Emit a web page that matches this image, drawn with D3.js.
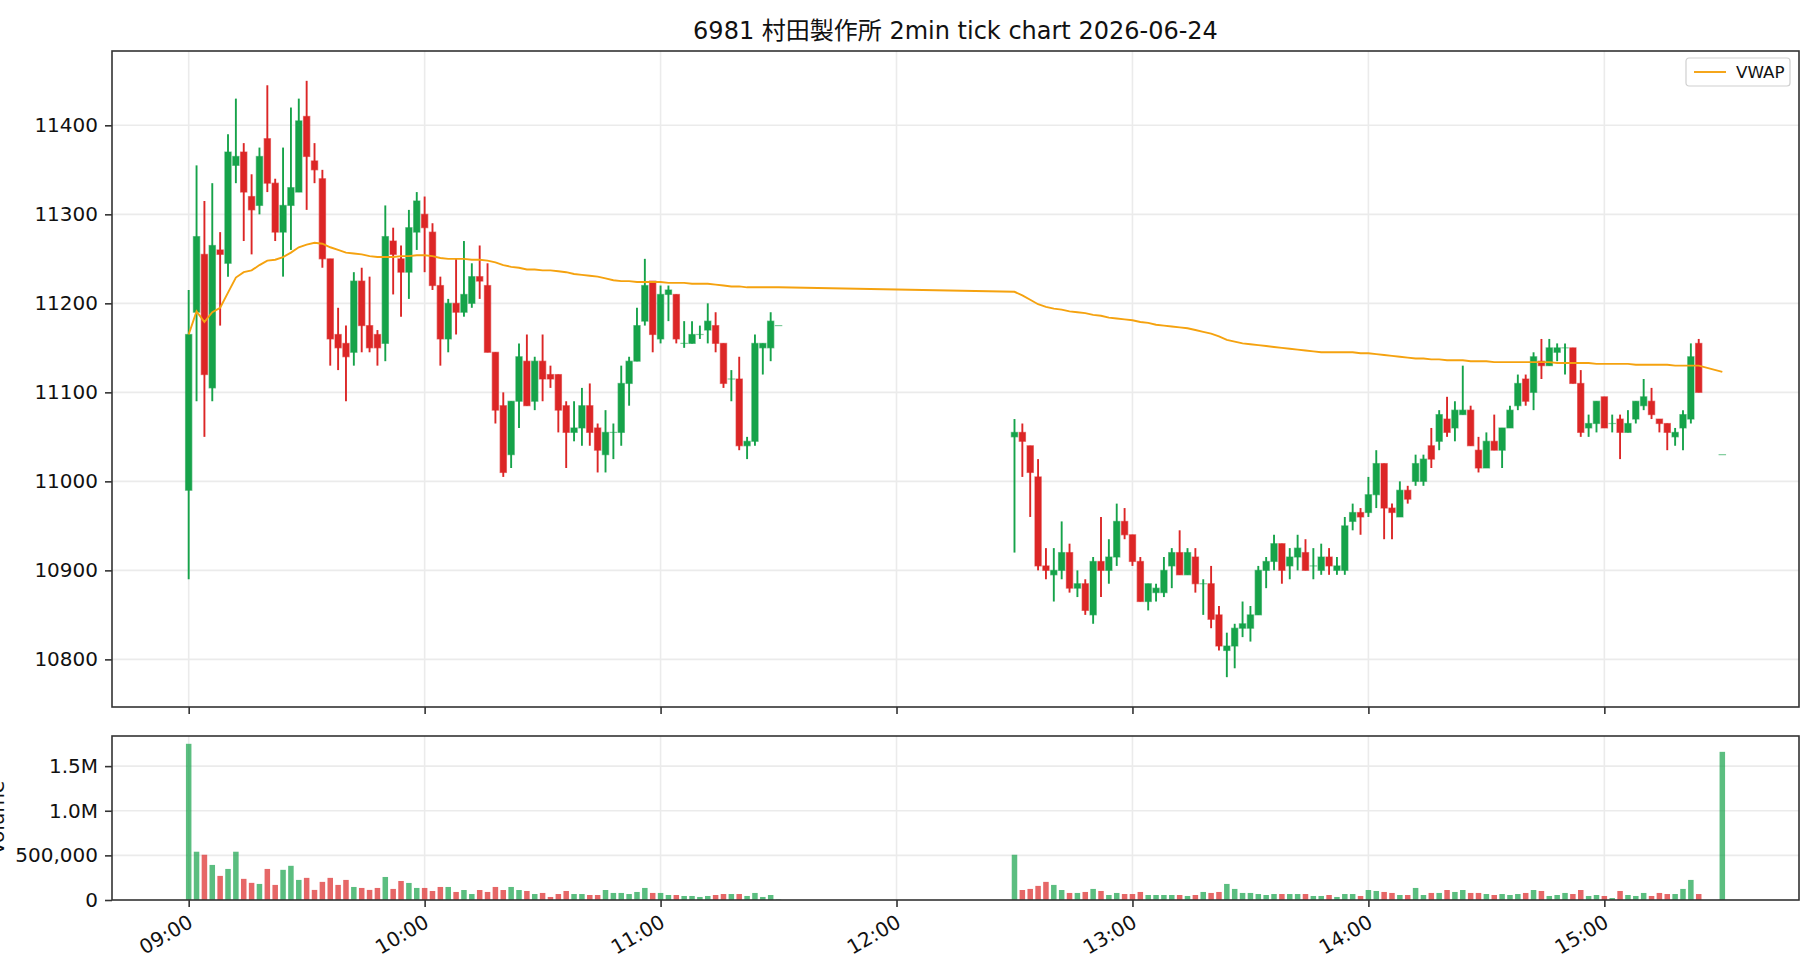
<!doctype html>
<html lang="ja">
<head>
<meta charset="utf-8">
<title>6981 村田製作所 2min tick chart 2026-06-24</title>
<script src="https://cdn.jsdelivr.net/npm/d3@7"></script>
<style>
	body { margin: 0; background: #fff; }
	svg { display: block; font-family: "DejaVu Sans", "Noto Sans CJK JP", sans-serif; }
	.grid line { stroke: #ebebeb; stroke-width: 1.6; }
	.axis line { stroke: #333; stroke-width: 1.6; }
	.axis path { display: none; }
	.axis text { fill: #111; font-size: 20px; font-family: "DejaVu Sans", sans-serif; }
</style>
</head>
<body>
<div id="chart"></div>
<script>
/* data */
var times = [
	'09:00','09:02','09:04','09:06','09:08','09:10','09:12','09:14','09:16','09:18',
	'09:20','09:22','09:24','09:26','09:28','09:30','09:32','09:34','09:36','09:38',
	'09:40','09:42','09:44','09:46','09:48','09:50','09:52','09:54','09:56','09:58',
	'10:00','10:02','10:04','10:06','10:08','10:10','10:12','10:14','10:16','10:18',
	'10:20','10:22','10:24','10:26','10:28','10:30','10:32','10:34','10:36','10:38',
	'10:40','10:42','10:44','10:46','10:48','10:50','10:52','10:54','10:56','10:58',
	'11:00','11:02','11:04','11:06','11:08','11:10','11:12','11:14','11:16','11:18',
	'11:20','11:22','11:24','11:26','11:28','11:30',
	'12:30','12:32','12:34','12:36','12:38','12:40','12:42','12:44','12:46','12:48',
	'12:50','12:52','12:54','12:56','12:58','13:00','13:02','13:04','13:06','13:08',
	'13:10','13:12','13:14','13:16','13:18','13:20','13:22','13:24','13:26','13:28',
	'13:30','13:32','13:34','13:36','13:38','13:40','13:42','13:44','13:46','13:48',
	'13:50','13:52','13:54','13:56','13:58','14:00','14:02','14:04','14:06','14:08',
	'14:10','14:12','14:14','14:16','14:18','14:20','14:22','14:24','14:26','14:28',
	'14:30','14:32','14:34','14:36','14:38','14:40','14:42','14:44','14:46','14:48',
	'14:50','14:52','14:54','14:56','14:58','15:00','15:02','15:04','15:06','15:08',
	'15:10','15:12','15:14','15:16','15:18','15:20','15:22','15:24','15:30'
];
var opens = [
	10990,11190,11255,11105,11260,11245,11355,11370,11320,11310,
	11385,11335,11280,11310,11325,11410,11360,11340,11250,11165,
	11155,11145,11225,11175,11165,11155,11270,11250,11235,11280,
	11300,11280,11220,11160,11200,11190,11200,11230,11220,11145,
	11085,11030,11090,11135,11090,11135,11120,11120,11085,11055,
	11060,11085,11060,11030,11055,11055,11110,11135,11180,11225,
	11160,11210,11210,11155,11155,11165,11170,11175,11155,11115,
	11115,11040,11045,11150,11150,11175,
	11050,11055,11040,11005,10905,10895,10900,10920,10880,10885,
	10850,10910,10900,10915,10955,10940,10910,10865,10875,10875,
	10905,10920,10895,10915,10885,10885,10850,10810,10815,10835,
	10835,10850,10900,10910,10930,10905,10915,10920,10905,10900,
	10915,10900,10900,10955,10965,10965,10985,11020,10970,10960,
	10990,11000,11000,11040,11045,11070,11060,11075,11080,11035,
	11015,11045,11035,11060,11085,11115,11100,11135,11130,11145,
	11150,11150,11110,11060,11065,11095,11065,11070,11055,11070,
	11085,11090,11070,11065,11050,11060,11070,11155,11030
];
var highs = [
	11215,11355,11315,11335,11280,11390,11430,11380,11345,11375,
	11445,11340,11375,11420,11430,11450,11380,11350,11250,11195,
	11175,11235,11240,11230,11170,11310,11285,11265,11305,11325,
	11320,11290,11230,11205,11250,11270,11245,11265,11245,11145,
	11100,11090,11155,11165,11140,11165,11130,11120,11090,11090,
	11105,11110,11065,11080,11065,11130,11140,11195,11250,11225,
	11220,11220,11210,11180,11180,11175,11200,11190,11155,11125,
	11140,11050,11165,11155,11190,11175,
	11070,11065,11040,11025,10925,10925,10955,10930,10900,10890,
	10915,10960,10935,10975,10970,10940,10915,10885,10885,10915,
	10925,10945,10925,10925,10890,10905,10860,10830,10840,10865,
	10860,10905,10915,10940,10930,10925,10940,10935,10925,10930,
	10925,10915,10960,10975,10970,11005,11035,11020,10975,11000,
	10995,11030,11030,11060,11080,11095,11090,11130,11085,11050,
	11055,11075,11060,11085,11120,11120,11145,11160,11160,11155,
	11155,11150,11125,11075,11090,11095,11075,11075,11080,11090,
	11115,11105,11070,11065,11060,11080,11155,11160,11030
];
var lows = [
	10890,11090,11050,11090,11175,11230,11335,11270,11255,11300,
	11325,11270,11230,11260,11325,11305,11335,11240,11130,11125,
	11090,11130,11145,11145,11130,11135,11210,11185,11205,11260,
	11235,11215,11130,11145,11165,11185,11195,11205,11145,11065,
	11005,11015,11060,11085,11080,11090,11105,11055,11015,11045,
	11040,11040,11010,11010,11025,11040,11085,11135,11175,11145,
	11155,11180,11155,11150,11155,11160,11155,11145,11105,11090,
	11035,11025,11040,11120,11135,11175,
	10920,11005,10960,10900,10890,10865,10890,10875,10870,10850,
	10840,10870,10885,10905,10935,10905,10865,10855,10865,10870,
	10880,10895,10895,10875,10850,10835,10810,10780,10790,10825,
	10820,10850,10880,10900,10885,10890,10900,10900,10890,10895,
	10895,10895,10895,10945,10940,10960,10970,10935,10935,10960,
	10975,10995,10995,11015,11035,11050,11045,11075,11040,11010,
	11015,11035,11015,11060,11080,11085,11080,11115,11130,11135,
	11120,11110,11050,11050,11055,11060,11055,11025,11055,11065,
	11080,11070,11055,11035,11040,11035,11065,11100,11030
];
var closes = [
	11165,11275,11120,11265,11255,11370,11365,11325,11305,11365,
	11335,11280,11310,11330,11405,11365,11350,11250,11160,11150,
	11140,11225,11175,11150,11150,11275,11255,11235,11285,11315,
	11285,11220,11160,11200,11190,11210,11230,11225,11145,11080,
	11010,11090,11140,11085,11135,11115,11115,11080,11055,11060,
	11085,11055,11035,11055,11055,11110,11135,11175,11220,11165,
	11210,11215,11160,11155,11165,11165,11180,11155,11110,11115,
	11040,11045,11155,11155,11180,11175,
	11055,11045,11010,10905,10900,10900,10920,10880,10885,10855,
	10910,10900,10915,10955,10940,10910,10865,10885,10880,10900,
	10920,10895,10920,10885,10885,10845,10815,10815,10835,10840,
	10850,10900,10910,10930,10900,10915,10925,10900,10905,10915,
	10905,10905,10950,10965,10960,10985,11020,10970,10965,10990,
	10980,11020,11025,11025,11075,11055,11080,11080,11040,11015,
	11045,11035,11060,11080,11110,11090,11140,11130,11150,11150,
	11150,11110,11055,11065,11090,11060,11065,11055,11065,11090,
	11095,11075,11065,11055,11055,11075,11140,11100,11030
];
var volumes = [
	1750000,541000,507000,393000,270000,348000,541000,237000,192000,180000,
	348000,169000,338000,383000,225000,248000,113000,203000,248000,169000,
	225000,146000,135000,113000,135000,258000,124000,213000,191000,135000,
	135000,101000,146000,146000,90000,112000,67000,112000,90000,146000,
	112000,146000,112000,101000,67000,79000,34000,67000,101000,67000,
	67000,56000,56000,112000,79000,79000,67000,90000,135000,79000,
	79000,56000,56000,45000,45000,34000,45000,56000,67000,67000,
	67000,45000,79000,34000,56000,5000,
	507000,112000,124000,158000,203000,169000,112000,79000,79000,90000,
	124000,101000,56000,79000,67000,67000,90000,56000,56000,56000,
	56000,56000,45000,56000,90000,79000,90000,180000,124000,79000,
	79000,67000,56000,67000,67000,67000,67000,67000,45000,45000,
	56000,34000,67000,67000,45000,112000,101000,90000,79000,56000,
	56000,135000,56000,79000,79000,112000,90000,112000,79000,79000,
	67000,56000,67000,56000,67000,79000,112000,101000,45000,56000,
	79000,67000,112000,45000,56000,45000,22000,101000,56000,45000,
	79000,45000,79000,67000,67000,124000,225000,67000,1660000
];
var vwap = [
	11165,11191,11179,11190,11195,11212,11229,11235,11237,11243,
	11248,11249,11252,11257,11263,11266,11268,11267,11263,11260,
	11257,11256,11255,11253,11252,11252,11252,11253,11253,11254,
	11254,11253,11251,11250,11250,11250,11249,11249,11248,11246,
	11243,11241,11240,11238,11238,11237,11237,11236,11235,11233,
	11232,11231,11230,11228,11226,11225,11225,11224,11224,11224,
	11224,11223,11223,11223,11222,11222,11222,11221,11220,11219,
	11219,11218,11218,11218,11218,11218,
	11213,11209,11204,11199,11196,11194,11193,11191,11190,11189,
	11187,11186,11184,11183,11182,11181,11179,11178,11176,11175,
	11174,11173,11172,11170,11168,11166,11163,11159,11157,11155,
	11154,11153,11152,11151,11150,11149,11148,11147,11146,11145,
	11145,11145,11145,11145,11144,11144,11143,11142,11141,11140,
	11139,11138,11138,11137,11137,11136,11136,11136,11135,11135,
	11135,11134,11134,11134,11134,11134,11134,11134,11134,11133,
	11133,11133,11133,11133,11132,11132,11132,11132,11132,11131,
	11131,11131,11131,11131,11130,11130,11130,11130,11123
];
var hourTicks = ['09:00','10:00','11:00','12:00','13:00','14:00','15:00'];
var priceTicks = [10800, 10900, 11000, 11100, 11200, 11300, 11400];
var volTicks = [0, 500000, 1000000, 1500000];
var volTickLabels = ['0', '500,000', '1.0M', '1.5M'];

/* view */
var size = { width: 1820, height: 980 };
var box = { left: 112, right: 1799 };
var main = { top: 51, bottom: 707 };
var vol = { top: 736, bottom: 900 };
var up = '#16a34a', down = '#dc2626';

var parseTime = d3.timeParse('%H:%M');
var candles = times.map(function(t, i){
	return { t: parseTime(t), o: opens[i], h: highs[i], l: lows[i], c: closes[i], v: volumes[i], w: vwap[i] };
});

var tExt = d3.extent(candles, function(d){ return d.t; });
var tPad = (tExt[1] - tExt[0]) * 0.05;
var x = d3.scaleTime()
	.domain([new Date(+tExt[0] - tPad), new Date(+tExt[1] + tPad)])
	.range([box.left, box.right]);

var lo = d3.min(lows), hi = d3.max(highs), pPad = (hi - lo) * 0.05;
var y = d3.scaleLinear().domain([lo - pPad, hi + pPad]).range([main.bottom, main.top]);
var yv = d3.scaleLinear().domain([0, d3.max(volumes) * 1.05]).range([vol.bottom, vol.top]);

var slot = x(parseTime('09:02')) - x(parseTime('09:00'));
var bodyW = slot * 0.8, volW = slot * 0.7;
var hourDates = hourTicks.map(parseTime);

var svg = d3.select('#chart').append('svg')
	.attr('width', size.width)
	.attr('height', size.height);

function colorOf(d){ return d.c >= d.o ? up : down; }

/* grid */
var grid = svg.append('g').attr('class', 'grid');
grid.selectAll('line.gx1').data(hourDates).enter().append('line')
	.attr('x1', function(d){ return x(d); }).attr('x2', function(d){ return x(d); })
	.attr('y1', main.top).attr('y2', main.bottom);
grid.selectAll('line.gx2').data(hourDates).enter().append('line')
	.attr('x1', function(d){ return x(d); }).attr('x2', function(d){ return x(d); })
	.attr('y1', vol.top).attr('y2', vol.bottom);
grid.selectAll('line.gy').data(priceTicks).enter().append('line')
	.attr('x1', box.left).attr('x2', box.right)
	.attr('y1', function(d){ return y(d); }).attr('y2', function(d){ return y(d); });
grid.selectAll('line.gv').data(volTicks.slice(1)).enter().append('line')
	.attr('x1', box.left).attr('x2', box.right)
	.attr('y1', function(d){ return yv(d); }).attr('y2', function(d){ return yv(d); });

/* candles */
var cg = svg.append('g');
cg.selectAll('line.wick').data(candles.filter(function(d){ return d.h > d.l; })).enter().append('line')
	.attr('x1', function(d){ return x(d.t); }).attr('x2', function(d){ return x(d.t); })
	.attr('y1', function(d){ return y(d.h); }).attr('y2', function(d){ return y(d.l); })
	.style('stroke', colorOf)
	.style('stroke-width', 1.9);
cg.selectAll('rect.body').data(candles).enter().append('rect')
	.attr('x', function(d){ return x(d.t) - bodyW / 2; })
	.attr('width', bodyW)
	.attr('y', function(d){ return y(Math.max(d.o, d.c)); })
	.attr('height', function(d){ return Math.max(Math.abs(y(d.o) - y(d.c)), 0.01); })
	.style('fill', colorOf)
	.style('stroke', colorOf)
	.style('stroke-opacity', 0.55)
	.style('stroke-width', 1.2);

/* vwap */
var line = d3.line()
	.x(function(d){ return x(d.t); })
	.y(function(d){ return y(d.w); });
svg.append('path')
	.datum(candles)
	.attr('d', line)
	.style('fill', 'none')
	.style('stroke', '#f5a20f')
	.style('stroke-width', 1.9);

/* volume */
svg.append('g').selectAll('rect').data(candles).enter().append('rect')
	.attr('x', function(d){ return x(d.t) - volW / 2; })
	.attr('width', volW)
	.attr('y', function(d){ return yv(d.v); })
	.attr('height', function(d){ return vol.bottom - yv(d.v); })
	.style('fill', colorOf)
	.style('fill-opacity', 0.7);

/* axes */
svg.append('g').attr('class', 'axis')
	.attr('transform', 'translate(' + box.left + ',0)')
	.call(d3.axisLeft(y).tickValues(priceTicks).tickFormat(d3.format('d')).tickSize(7).tickPadding(7));
svg.append('g').attr('class', 'axis')
	.attr('transform', 'translate(' + box.left + ',0)')
	.call(d3.axisLeft(yv).tickValues(volTicks)
		.tickFormat(function(d, i){ return volTickLabels[i]; }).tickSize(7).tickPadding(7));
svg.append('g').attr('class', 'axis')
	.attr('transform', 'translate(0,' + main.bottom + ')')
	.call(d3.axisBottom(x).tickValues(hourDates).tickFormat('').tickSize(7));
var xa = svg.append('g').attr('class', 'axis')
	.attr('transform', 'translate(0,' + vol.bottom + ')')
	.call(d3.axisBottom(x).tickValues(hourDates).tickFormat(d3.timeFormat('%H:%M')).tickSize(7));
xa.selectAll('text')
	.attr('text-anchor', 'end')
	.attr('dy', '0.72em')
	.attr('transform', 'translate(-7,5) rotate(-30)');

/* frames */
[main, vol].forEach(function(p){
	svg.append('rect')
		.attr('x', box.left).attr('y', p.top)
		.attr('width', box.right - box.left).attr('height', p.bottom - p.top)
		.style('fill', 'none').style('stroke', '#333').style('stroke-width', 1.6);
});

svg.append('text')
	.attr('x', 4).attr('y', (vol.top + vol.bottom) / 2)
	.attr('transform', 'rotate(-90,4,' + ((vol.top + vol.bottom) / 2) + ')')
	.attr('text-anchor', 'middle')
	.style('font-size', '20px').style('fill', '#111')
	.text('Volume');

svg.append('text')
	.attr('x', (box.left + box.right) / 2).attr('y', 39)
	.attr('text-anchor', 'middle')
	.style('font-size', '24px').style('fill', '#111')
	.text('6981 村田製作所 2min tick chart 2026-06-24');

/* legend */
var lg = svg.append('g').attr('transform', 'translate(1686,58)');
lg.append('rect')
	.attr('width', 104).attr('height', 28).attr('rx', 3)
	.style('fill', '#fff').style('fill-opacity', 0.8)
	.style('stroke', '#d0d0d0').style('stroke-width', 1.2);
lg.append('line')
	.attr('x1', 8).attr('x2', 40).attr('y1', 14).attr('y2', 14)
	.style('stroke', '#f5a20f').style('stroke-width', 1.9);
lg.append('text')
	.attr('x', 50).attr('y', 20)
	.style('font-size', '16.7px').style('fill', '#111')
	.text('VWAP');
</script>
</body>
</html>
